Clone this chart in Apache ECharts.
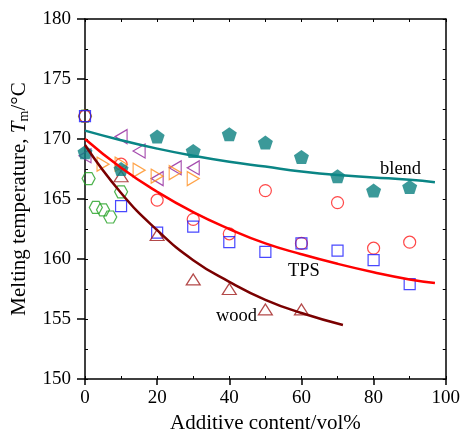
<!DOCTYPE html>
<html>
<head>
<meta charset="utf-8">
<script src="https://cdn.jsdelivr.net/npm/echarts@6/dist/echarts.min.js"></script>
<style>
  html, body { margin: 0; padding: 0; background: #fff; }
  #chart { width: 463px; height: 439px; }
</style>
</head>
<body>
<div id="chart"></div>
<script>
// Axis ticks
const xTicks = [0, 20, 40, 60, 80, 100];
const yTicks = [150, 155, 160, 165, 170, 175, 180];

// Measured melting temperatures (x: additive content, vol%; y: Tm, °C)
const blendX   = [0, 10, 20, 30, 40, 50, 60, 70, 80, 90];
const blendY   = [168.9, 167.5, 170.2, 169.0, 170.4, 169.7, 168.5, 166.9, 165.7, 166.0];
const circleX  = [0, 10, 20, 30, 40, 50, 60, 70, 80, 90];
const circleY  = [171.9, 167.9, 164.9, 163.3, 162.1, 165.7, 161.3, 164.7, 160.9, 161.4];
const squareX  = [0, 10, 20, 30, 40, 50, 60, 70, 80, 90];
const squareY  = [171.9, 164.4, 162.2, 162.7, 161.4, 160.6, 161.3, 160.7, 159.9, 157.9];
const woodX    = [10, 20, 30, 40, 50, 60];
const woodY    = [166.9, 162.0, 158.3, 157.5, 155.8, 155.8];
const leftTriX = [0, 10, 15, 20, 25, 30];
const leftTriY = [168.6, 170.2, 169.0, 166.7, 167.6, 167.6];
const rightTriX = [5, 10, 15, 20, 25, 30];
const rightTriY = [167.9, 167.9, 167.4, 166.9, 167.2, 166.7];
const hexX     = [0, 1, 3, 5, 7, 10];
const hexY     = [171.9, 166.7, 164.3, 164.1, 163.5, 165.6];

// Trend curves
const blendCurveX = [0, 10, 20, 30, 40, 50, 60, 70, 80, 90, 97];
const blendCurveY = [170.7, 169.9, 169.2, 168.6, 168.1, 167.7, 167.3, 167.0, 166.8, 166.6, 166.4];
const tpsCurveX   = [0, 10, 20, 30, 40, 50, 60, 70, 80, 90, 97];
const tpsCurveY   = [170.0, 167.6, 165.6, 163.9, 162.5, 161.3, 160.4, 159.6, 158.9, 158.3, 158.0];
const woodCurveX  = [0, 10, 20, 30, 40, 50, 60, 71.5];
const woodCurveY  = [169.5, 165.5, 162.4, 159.9, 158.1, 156.6, 155.5, 154.5];

// Curve labels
const curveLabels = ['blend', 'TPS', 'wood'];

const FONT = '"Liberation Serif", "Times New Roman", serif';
const zip = (xs, ys) => xs.map((x, i) => [x, ys[i]]);

const PENTAGON = 'path://M0,-1 L0.951,-0.309 L0.588,0.809 L-0.588,0.809 L-0.951,-0.309 Z';
const HEXAGON  = 'path://M-1,0 L-0.5,-0.866 L0.5,-0.866 L1,0 L0.5,0.866 L-0.5,0.866 Z';
const TRI_LEFT = 'path://M0,1 L2,0 L2,2 Z';
const TRI_RIGHT = 'path://M0,0 L2,1 L0,2 Z';
const TRI_UP = 'path://M1,0 L2,1.7 L0,1.7 Z';

function hollow(name, xs, ys, symbol, size, color) {
  return {
    name, type: 'scatter', xAxisIndex: 0, yAxisIndex: 0,
    data: zip(xs, ys), symbol, symbolSize: size,
    itemStyle: { color: 'rgba(0,0,0,0)', borderColor: color, borderWidth: 1.2 },
    z: 3
  };
}
function curve(name, xs, ys, color) {
  return {
    name, type: 'line', xAxisIndex: 0, yAxisIndex: 0,
    data: zip(xs, ys), showSymbol: false, smooth: 0.5,
    lineStyle: { color, width: 2.5 }, z: 4
  };
}

const tickLabel = { fontFamily: FONT, fontSize: 19, color: '#000' };
const frameLine = { show: true, onZero: false, lineStyle: { color: '#000', width: 1.5 } };
const innerTick = { show: true, inside: true, length: 3, lineStyle: { color: '#000', width: 1 } };

const chart = echarts.init(document.getElementById('chart'), null, { renderer: 'canvas' });
chart.setOption({
  animation: false,
  backgroundColor: '#fff',
  grid: { left: 85, right: 15, top: 19, bottom: 57, containLabel: false },
  xAxis: [
    {
      type: 'value', position: 'bottom', min: 0, max: 100, interval: 20,
      name: 'Additive content/vol%', nameLocation: 'middle', nameGap: 34,
      nameTextStyle: { fontFamily: FONT, fontSize: 21, color: '#000' },
      axisLine: frameLine,
      axisTick: { show: true, inside: false, length: 6, lineStyle: { color: '#000', width: 1.5 } },
      axisLabel: Object.assign({ margin: 10, formatter: v => xTicks.includes(v) ? String(v) : '' }, tickLabel),
      splitLine: { show: false }
    },
    {
      type: 'value', position: 'top', min: 0, max: 100, interval: 10,
      axisLine: frameLine, axisTick: innerTick,
      axisLabel: { show: false }, splitLine: { show: false }
    },
    {
      type: 'value', position: 'bottom', min: 0, max: 100, interval: 10,
      axisLine: { show: false, onZero: false }, axisTick: innerTick,
      axisLabel: { show: false }, splitLine: { show: false }
    }
  ],
  yAxis: [
    {
      type: 'value', position: 'left', min: 150, max: 180, interval: 5,
      name: '{a|Melting temperature, }{i|T}{s|m}{a|/°C}',
      nameLocation: 'middle', nameGap: 50, nameRotate: 90,
      nameTextStyle: {
        fontFamily: FONT, fontSize: 21, color: '#000',
        rich: {
          a: { fontFamily: FONT, fontSize: 21, color: '#000', lineHeight: 24 },
          i: { fontFamily: FONT, fontSize: 21, color: '#000', fontStyle: 'italic', lineHeight: 24 },
          s: { fontFamily: FONT, fontSize: 14, color: '#000', verticalAlign: 'bottom', lineHeight: 14, padding: [8, 0, 0, 0] }
        }
      },
      axisLine: frameLine,
      axisTick: { show: true, inside: false, length: 8, lineStyle: { color: '#000', width: 1.5 } },
      axisLabel: Object.assign({ margin: 14, formatter: v => yTicks.includes(v) ? String(v) : '' }, tickLabel),
      splitLine: { show: false }
    },
    {
      type: 'value', position: 'right', min: 150, max: 180, interval: 2.5,
      axisLine: frameLine, axisTick: innerTick,
      axisLabel: { show: false }, splitLine: { show: false }
    },
    {
      type: 'value', position: 'left', min: 150, max: 180, interval: 2.5,
      axisLine: { show: false, onZero: false }, axisTick: innerTick,
      axisLabel: { show: false }, splitLine: { show: false }
    }
  ],
  series: [
    hollow('hexagon', hexX, hexY, HEXAGON, [13, 12], '#22a022'),
    hollow('circle', circleX, circleY, 'circle', 12, '#ff1a1a'),
    hollow('square', squareX, squareY, 'rect', 11, '#1a1aff'),
    hollow('wood', woodX, woodY, TRI_UP, [14, 11], '#a01c1c'),
    hollow('left', leftTriX, leftTriY, TRI_LEFT, [12, 14], '#8e1f9a'),
    hollow('right', rightTriX, rightTriY, TRI_RIGHT, [12, 14], '#ff8c1a'),
    {
      name: 'blend', type: 'scatter', xAxisIndex: 0, yAxisIndex: 0,
      data: zip(blendX, blendY), symbol: PENTAGON, symbolSize: [15, 14],
      itemStyle: { color: '#0a7f7f' }, z: 3
    },
    curve('blendCurve', blendCurveX, blendCurveY, '#0a8585'),
    curve('tpsCurve', tpsCurveX, tpsCurveY, '#ff0000'),
    curve('woodCurve', woodCurveX, woodCurveY, '#7a0000')
  ],
  graphic: [
    { type: 'text', left: 380, top: 160, style: { text: curveLabels[0], font: '18.5px ' + FONT, fill: '#000' }, z: 10 },
    { type: 'text', left: 288, top: 262, style: { text: curveLabels[1], font: '18.5px ' + FONT, fill: '#000' }, z: 10 },
    { type: 'text', left: 216, top: 307, style: { text: curveLabels[2], font: '18.5px ' + FONT, fill: '#000' }, z: 10 }
  ]
});
</script>
</body>
</html>
